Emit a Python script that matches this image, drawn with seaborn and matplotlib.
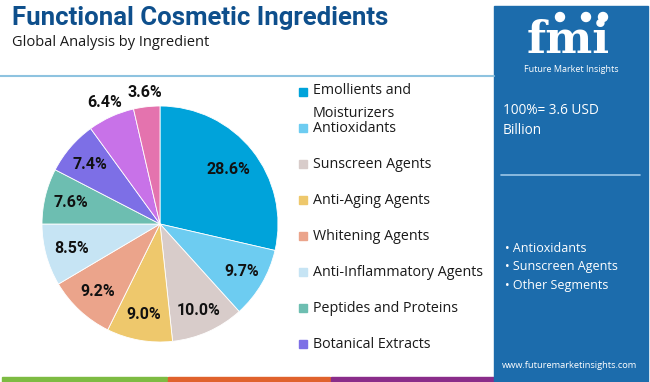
import numpy as np
import matplotlib.pyplot as plt
import seaborn as sns
from matplotlib.patches import Rectangle

# --- data ---
ingredients = ["Emollients and\nMoisturizers", "Antioxidants", "Sunscreen Agents",
               "Anti-Aging Agents", "Whitening Agents", "Anti-Inflammatory Agents",
               "Peptides and Proteins", "Botanical Extracts", "Essential Oils", "Others"]
shares = [28.6, 9.7, 10.0, 9.0, 9.2, 8.5, 7.6, 7.4, 6.4, 3.6]
colors = ["#00A3DA", "#6DCCF1", "#D8CCCA", "#EEC86C", "#EBA48B",
          "#C6E4F4", "#6DBEB1", "#7D6FE6", "#C872E8", "#E473AE"]
label_dist = [0.74, 0.8, 0.8, 0.78, 0.78, 0.78, 0.78, 0.78, 1.13, 1.12]
legend_n = 8
highlights = ["Antioxidants", "Sunscreen Agents", "Other Segments"]
market_note = ["100%= 3.6 USD", "Billion"]

sns.set_style("white")
plt.rcParams['font.family'] = ['Open Sans', 'DejaVu Sans']

W, H = 650, 382
fig = plt.figure(figsize=(W / 100, H / 100), dpi=100)
bg = fig.add_axes([0, 0, 1, 1])
bg.set_xlim(0, W)
bg.set_ylim(H, 0)
bg.axis('off')

# header
bg.text(12, 18, "Functional Cosmetic Ingredients", fontsize=18.5, fontweight='bold',
        color='#0E4F8C', va='center', family=['Roboto', 'DejaVu Sans'])
bg.text(12, 42, "Global Analysis by Ingredient", fontsize=10.5, color='#1a1a1a', va='center')
bg.plot([0, 494], [76, 76], color='#8EC3E0', lw=1.5)

# bottom stripes
bg.add_patch(Rectangle((2, 377), 165, 5, color='#7DBB42'))
bg.add_patch(Rectangle((168, 377), 162, 5, color='#E0622D'))
bg.add_patch(Rectangle((331, 377), 163, 5, color='#8A2D8A'))

# right panel
bg.add_patch(Rectangle((494, 6), 154, 376, color='#1C6CAC'))
bg.text(568, 53, "fmi", fontsize=32, fontweight='bold', color='white', ha='center',
        va='baseline', family=['DejaVu Serif'])
for px in [560, 586, 603]:
    bg.add_patch(plt.Circle((px, 17), 4.5, color='white'))
bg.text(571, 70, "Future Market Insights", fontsize=6.5, color='white', ha='center', va='center')
bg.text(503, 110, market_note[0], fontsize=9.8, color='white', va='center')
bg.text(503, 131, market_note[1], fontsize=9.8, color='white', va='center')
bg.plot([501, 640], [175, 175], color='#9CC7E8', lw=1.2)
for i, h in enumerate(highlights):
    bg.text(505, 248 + 18.5 * i, "• " + h, fontsize=9, color='white', va='center')
bg.text(570, 366, "www.futuremarketinsights.com", fontsize=6.7, color='white', ha='center', va='center')

# legend
ly = [92, 128, 164, 200, 236, 272, 308, 344]
for i in range(legend_n):
    bg.add_patch(Rectangle((299, ly[i] - 4), 8, 8, color=colors[i]))
    if '\n' in ingredients[i]:
        bg.text(313, ly[i] - 9, ingredients[i], fontsize=10.3, color='#1a1a1a', va='top',
                linespacing=1.7)
    else:
        bg.text(313, ly[i], ingredients[i], fontsize=10.3, color='#1a1a1a', va='center')

# pie
cx, cy, r = 160, 224, 118
ax = fig.add_axes([(cx - r) / W, (H - cy - r) / H, 2 * r / W, 2 * r / H])
wedges, _ = ax.pie(shares, colors=colors, startangle=90, counterclock=False,
                   wedgeprops=dict(linewidth=0.6, edgecolor='white'))
ax.set_xlim(-1, 1)
ax.set_ylim(-1, 1)
for w, s, d in zip(wedges, shares, label_dist):
    ang = np.deg2rad((w.theta1 + w.theta2) / 2)
    ax.text(d * np.cos(ang), d * np.sin(ang), f"{s:.1f}%", fontsize=11.5, fontweight='bold',
            ha='center', va='center', color='#111111', family=['Roboto', 'DejaVu Sans'],
            clip_on=False)

fig.savefig("out.png", dpi=100)
